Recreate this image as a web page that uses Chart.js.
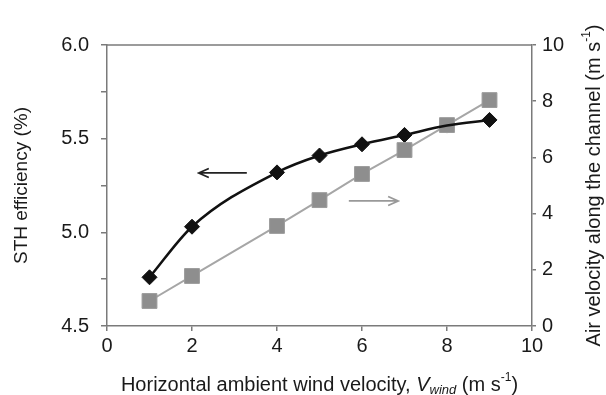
<!DOCTYPE html>
<html>
<head>
<meta charset="utf-8">
<script src="https://cdn.jsdelivr.net/npm/chart.js@4.4.0/dist/chart.umd.min.js"></script>
<style>
  html, body { margin: 0; padding: 0; background: #fff; }
  #wrap { width: 606px; height: 395px; position: relative; }
</style>
</head>
<body>
<div id="wrap"><canvas id="chart"></canvas></div>
<script>
// wind velocity (m/s)
const windSpeeds = [1, 2, 4, 5, 6, 7, 8, 9];
// STH efficiency (%), left axis
const sthEfficiency = [4.76, 5.03, 5.32, 5.41, 5.47, 5.52, 5.57, 5.60];
// air velocity along the channel (m/s), right axis
const airVelocity = [0.89, 1.78, 3.56, 4.48, 5.41, 6.26, 7.15, 8.04];

const leftTicks = { min: 4.5, max: 6.0, step: 0.25 };
const rightTicks = { min: 0, max: 10, step: 2 };
const xTicks = { min: 0, max: 10, step: 2 };

// arrows pointing to each series' axis: [x from, x to, y, axis]
const arrows = [
  { from: 3.29, to: 2.16, y: 5.317, axis: "y", color: "#222" },
  { from: 5.69, to: 6.85, y: 4.45, axis: "y2", color: "#999" },
];

const FONT = "'Liberation Sans', Arial, Helvetica, sans-serif";
const axisColor = "#7a7a7a";

const pts = (ys) => windSpeeds.map((x, i) => ({ x: x, y: ys[i] }));

// draws text made of pieces with different size/style, centred on (x, y)
function drawRich(ctx, parts, x, y, angle) {
  ctx.save();
  ctx.translate(x, y);
  ctx.rotate(angle);
  let total = 0;
  parts.forEach((p) => {
    ctx.font = (p.italic ? "italic " : "") + p.size + "px " + FONT;
    p.w = ctx.measureText(p.t).width;
    total += p.w;
  });
  let cx = -total / 2;
  ctx.textBaseline = "middle";
  ctx.textAlign = "left";
  ctx.fillStyle = "#1a1a1a";
  parts.forEach((p) => {
    ctx.font = (p.italic ? "italic " : "") + p.size + "px " + FONT;
    ctx.fillText(p.t, cx, p.dy || 0);
    cx += p.w;
  });
  ctx.restore();
}

const extrasPlugin = {
  id: "extras",
  afterDraw(chart) {
    const ctx = chart.ctx;
    const area = chart.chartArea;
    const xs = chart.scales.x;

    // top frame line
    ctx.save();
    ctx.strokeStyle = axisColor;
    ctx.lineWidth = 1.5;
    ctx.beginPath();
    ctx.moveTo(area.left, area.top);
    ctx.lineTo(area.right, area.top);
    ctx.stroke();
    ctx.restore();

    // arrows
    arrows.forEach((a) => {
      const ys = chart.scales[a.axis];
      const x1 = xs.getPixelForValue(a.from);
      const x2 = xs.getPixelForValue(a.to);
      const y = ys.getPixelForValue(a.y);
      const dir = x2 > x1 ? 1 : -1;
      ctx.save();
      ctx.strokeStyle = a.color;
      ctx.lineWidth = 1.8;
      ctx.beginPath();
      ctx.moveTo(x1, y);
      ctx.lineTo(x2, y);
      ctx.moveTo(x2 - dir * 10, y - 4.5);
      ctx.lineTo(x2, y);
      ctx.lineTo(x2 - dir * 10, y + 4.5);
      ctx.stroke();
      ctx.restore();
    });

    // axis titles
    const midY = (area.top + area.bottom) / 2;
    drawRich(ctx, [{ t: "STH efficiency (%)", size: 19 }], 22, midY, -Math.PI / 2);
    drawRich(ctx, [
      { t: "Air velocity along the channel (m s", size: 20 },
      { t: "-1", size: 12, dy: -7 },
      { t: ")", size: 20 },
    ], 594, midY, -Math.PI / 2);
    drawRich(ctx, [
      { t: "Horizontal ambient wind velocity, ", size: 20 },
      { t: "V", size: 20, italic: true },
      { t: "wind", size: 13, italic: true, dy: 5 },
      { t: " (m s", size: 20 },
      { t: "-1", size: 12, dy: -7 },
      { t: ")", size: 20 },
    ], (area.left + area.right) / 2, 385, 0);
  },
};

const tickFont = { family: FONT, size: 20 };

new Chart(document.getElementById("chart"), {
  type: "line",
  data: {
    datasets: [
      {
        // fitted curve through the efficiency points, drawn on top
        data: pts(sthEfficiency),
        yAxisID: "y",
        borderColor: "#111",
        borderWidth: 2.5,
        pointRadius: 0,
        cubicInterpolationMode: "monotone",
        order: 0,
      },
      {
        data: pts(airVelocity),
        yAxisID: "y2",
        borderColor: "#a6a6a6",
        borderWidth: 2,
        pointStyle: "rect",
        pointRadius: 10.5,
        pointBackgroundColor: "#8e8e8e",
        pointBorderColor: "#9c9c9c",
        pointBorderWidth: 1,
        order: 1,
      },
      {
        data: pts(sthEfficiency),
        yAxisID: "y",
        showLine: false,
        pointStyle: "rectRot",
        pointRadius: 7.5,
        pointBackgroundColor: "#111",
        pointBorderColor: "#111",
        pointBorderWidth: 1,
        order: 2,
      },
    ],
  },
  options: {
    responsive: true,
    maintainAspectRatio: false,
    animation: false,
    layout: { padding: { top: 45, left: 0, right: 0, bottom: 0 } },
    plugins: {
      legend: { display: false },
      tooltip: { enabled: false },
    },
    scales: {
      x: {
        type: "linear",
        min: xTicks.min,
        max: xTicks.max,
        afterFit: (s) => { s.height = 69; },
        border: { color: axisColor, width: 1.5 },
        grid: { drawOnChartArea: false, color: axisColor, lineWidth: 1.5, tickLength: 5 },
        ticks: { stepSize: xTicks.step, color: "#1a1a1a", font: tickFont, padding: 3, maxRotation: 0 },
      },
      y: {
        position: "left",
        min: leftTicks.min,
        max: leftTicks.max,
        afterFit: (s) => { s.width = 107; },
        border: { color: axisColor, width: 1.5 },
        grid: { drawOnChartArea: false, color: axisColor, lineWidth: 1.5, tickLength: 6 },
        ticks: {
          stepSize: leftTicks.step,
          color: "#1a1a1a",
          font: tickFont,
          padding: 12,
          callback: (v) => Math.abs(v * 2 - Math.round(v * 2)) < 1e-6 ? v.toFixed(1) : "",
        },
      },
      y2: {
        position: "right",
        min: rightTicks.min,
        max: rightTicks.max,
        afterFit: (s) => { s.width = 74; },
        border: { color: axisColor, width: 1.5 },
        grid: { drawOnChartArea: false, color: axisColor, lineWidth: 1.5, tickLength: 4 },
        ticks: { stepSize: rightTicks.step, color: "#1a1a1a", font: tickFont, padding: 6 },
      },
    },
  },
  plugins: [extrasPlugin],
});
</script>
</body>
</html>
